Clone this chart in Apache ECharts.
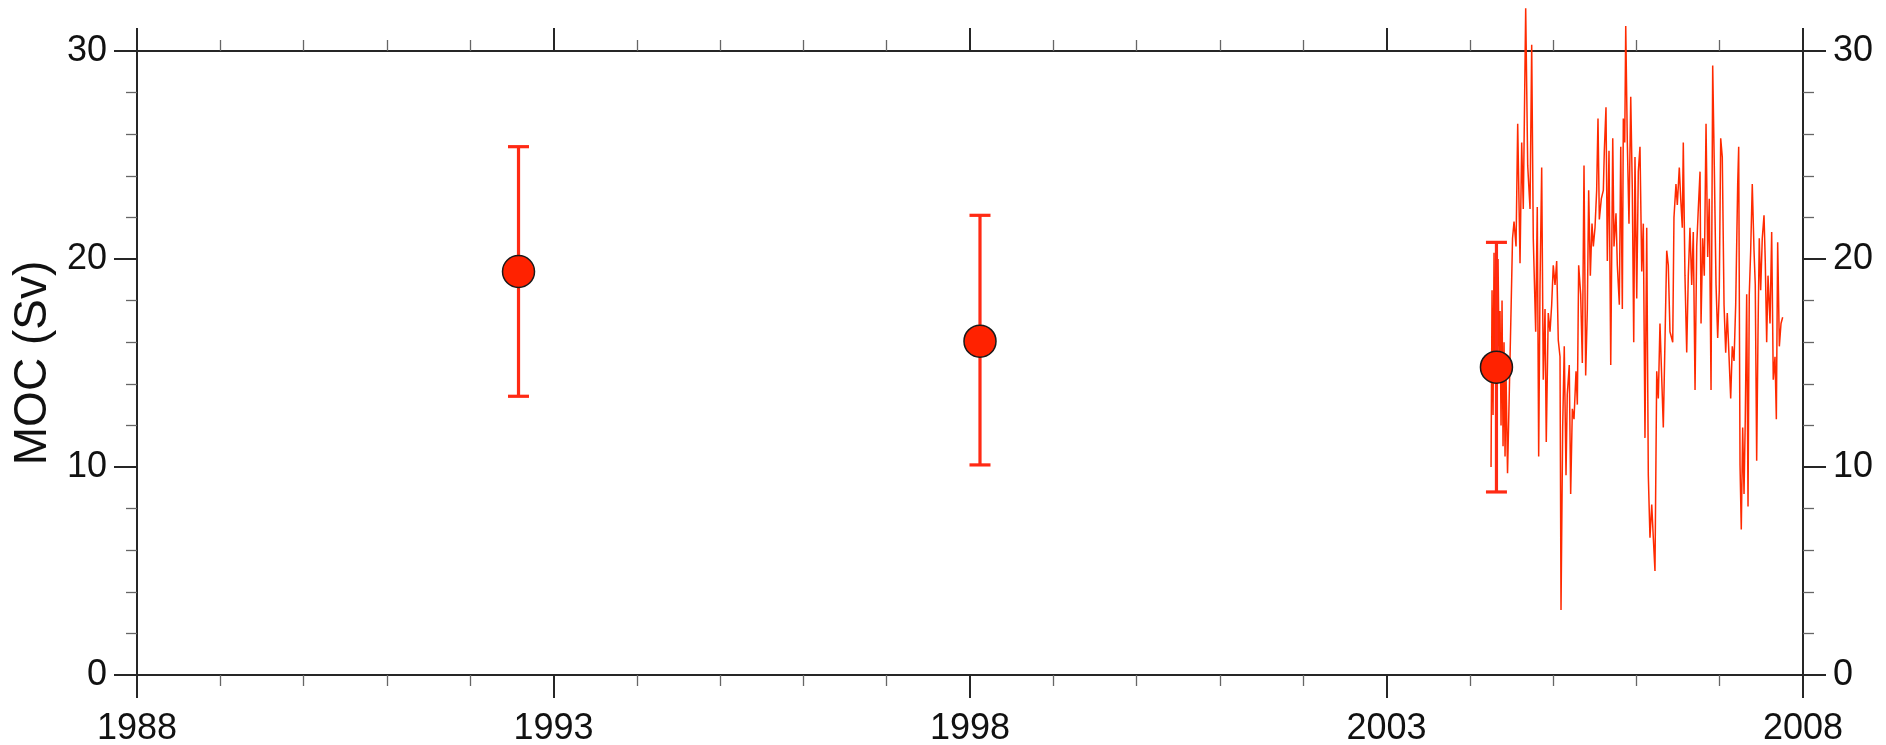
<!DOCTYPE html>
<html><head><meta charset="utf-8">
<script src="https://cdn.jsdelivr.net/npm/echarts@6/dist/echarts.min.js"></script>
<style>html,body{margin:0;padding:0;background:#fff}#c{width:1886px;height:745px}</style>
</head><body><div id="c"></div>
<script>
// ---- data ----
const xTickLabels = ['1988', '1993', '1998', '2003', '2008'];
const yTickLabels = ['0', '10', '20', '30'];
const yAxisTitle = 'MOC (Sv)';

// hydrographic section estimates (mean with error bar)
const cruiseYears = [1992.58, 1998.12, 2004.32];
const cruiseMOC   = [19.4, 16.05, 14.8];
const cruiseLow   = [13.4, 10.1, 8.8];
const cruiseHigh  = [25.4, 22.1, 20.8];

// continuous array time series
const rapidYears = [
 2004.255,2004.267,2004.279,2004.291,2004.303,2004.315,2004.327,2004.339,2004.351,2004.363,
 2004.375,2004.387,2004.399,2004.411,2004.423,2004.435,2004.453,2004.471,2004.495,2004.513,
 2004.531,2004.555,2004.575,2004.603,2004.623,2004.642,2004.671,2004.695,2004.723,2004.743,
 2004.762,2004.791,2004.810,2004.827,2004.843,2004.863,2004.882,2004.903,2004.918,2004.942,
 2004.963,2004.983,2005.002,2005.023,2005.043,2005.062,2005.083,2005.095,2005.115,2005.134,
 2005.155,2005.170,2005.194,2005.211,2005.231,2005.251,2005.275,2005.291,2005.307,2005.331,
 2005.351,2005.371,2005.391,2005.411,2005.427,2005.447,2005.467,2005.483,2005.503,2005.523,
 2005.539,2005.555,2005.579,2005.603,2005.615,2005.635,2005.651,2005.671,2005.692,2005.716,
 2005.731,2005.755,2005.771,2005.795,2005.812,2005.831,2005.843,2005.860,2005.872,2005.891,
 2005.911,2005.932,2005.951,2005.968,2005.983,2006.004,2006.023,2006.043,2006.064,2006.083,
 2006.103,2006.124,2006.143,2006.163,2006.184,2006.203,2006.223,2006.244,2006.263,2006.283,
 2006.323,2006.364,2006.383,2006.403,2006.436,2006.451,2006.475,2006.491,2006.515,2006.532,
 2006.551,2006.563,2006.583,2006.604,2006.623,2006.643,2006.664,2006.683,2006.704,2006.724,
 2006.743,2006.764,2006.776,2006.796,2006.815,2006.836,2006.856,2006.875,2006.896,2006.916,
 2006.935,2006.956,2006.976,2006.995,2007.012,2007.031,2007.052,2007.072,2007.091,2007.112,
 2007.132,2007.151,2007.172,2007.192,2007.216,2007.228,2007.244,2007.259,2007.276,2007.292,
 2007.307,2007.324,2007.340,2007.355,2007.372,2007.391,2007.412,2007.427,2007.444,2007.460,
 2007.475,2007.492,2007.511,2007.532,2007.547,2007.564,2007.580,2007.604,2007.624,2007.643,
 2007.664,2007.680,2007.696,2007.716,2007.736,2007.756
];
const rapidMOC = [
 10.0,18.5,12.5,20.3,14.0,19.8,13.0,20.0,15.5,17.5,
 12.0,18.0,11.0,16.0,10.5,14.5,9.7,13.0,17.5,21.0,
 21.8,20.6,26.5,19.8,25.6,22.4,32.06,24.5,22.4,30.3,
 21.0,16.5,22.5,10.5,18.75,24.4,14.2,17.6,11.2,17.4,
 16.5,17.8,19.7,18.75,19.9,16.1,15.3,3.13,11.9,15.8,
 9.6,13.5,14.9,8.7,12.8,12.3,14.6,13.0,19.7,18.3,
 15.0,24.5,14.4,17.6,23.3,19.2,21.7,20.6,21.5,23.3,
 26.75,21.9,22.9,23.3,25.2,27.3,19.9,25.2,14.9,25.8,
 20.6,22.2,19.7,17.8,25.4,17.6,26.75,25.6,31.2,25.6,
 21.7,27.8,23.3,16.0,24.9,18.1,24.2,25.4,19.4,21.7,
 11.4,21.5,9.6,6.6,8.2,6.6,5.0,14.6,13.3,16.9,
 11.9,20.4,19.7,16.5,16.0,22.0,23.6,22.6,24.4,22.9,
 21.5,25.6,19.2,15.5,19.2,21.5,18.75,21.3,13.7,20.6,
 22.4,24.2,16.9,21.0,19.2,26.5,20.1,22.9,13.7,29.3,
 24.5,18.75,16.2,18.5,25.8,24.9,17.8,15.5,17.4,15.3,
 13.3,15.8,15.1,17.8,23.6,25.4,10.1,7.0,11.9,8.7,
 12.3,18.3,8.1,18.3,20.4,23.6,20.4,18.75,10.3,16.5,
 21.0,18.5,21.0,22.1,19.9,16.0,19.2,16.9,21.3,14.2,
 15.3,12.3,20.8,15.8,16.9,17.2
];

// ---- chart ----
const axisColor = '#262626';
const font = "'Liberation Sans', Arial, Helvetica, sans-serif";
const X_MIN = 1988, X_MAX = 2008, X_STEP = 5;
const Y_MIN = 0, Y_MAX = 30, Y_STEP = 10;

function makeX(pos, showLabel) {
  return {
    type: 'value', position: pos, min: X_MIN, max: X_MAX, interval: X_STEP,
    axisLine: { show: true, onZero: false, lineStyle: { color: axisColor, width: 2 } },
    axisTick: { show: true, inside: false, length: 23, lineStyle: { color: axisColor, width: 2 } },
    minorTick: { show: true, splitNumber: 5, length: 11, lineStyle: { color: '#666', width: 1.3 } },
    axisLabel: { show: showLabel, margin: 36, fontSize: 36, color: '#111', fontFamily: font,
      formatter: v => xTickLabels[Math.round((v - X_MIN) / X_STEP)] },
    splitLine: { show: false }, minorSplitLine: { show: false }
  };
}
function makeY(pos, withName) {
  const a = {
    type: 'value', position: pos, min: Y_MIN, max: Y_MAX, interval: Y_STEP,
    axisLine: { show: true, onZero: false, lineStyle: { color: axisColor, width: 2 } },
    axisTick: { show: true, inside: false, length: 23, lineStyle: { color: axisColor, width: 2 } },
    minorTick: { show: true, splitNumber: 5, length: 11, lineStyle: { color: '#666', width: 1.3 } },
    axisLabel: { show: true, margin: 30, fontSize: 36, color: '#111', fontFamily: font,
      formatter: v => yTickLabels[Math.round((v - Y_MIN) / Y_STEP)] },
    splitLine: { show: false }, minorSplitLine: { show: false }
  };
  if (withName) {
    a.name = yAxisTitle;
    a.nameLocation = 'middle';
    a.nameGap = 64;
    a.nameRotate = 90;
    a.nameTextStyle = { fontSize: 46, color: '#111', fontFamily: font };
  }
  return a;
}

const chart = echarts.init(document.getElementById('c'), null, { renderer: 'canvas' });
chart.setOption({
  animation: false,
  backgroundColor: '#fff',
  grid: { left: 137, right: 83, top: 51, bottom: 70, containLabel: false, outerBoundsMode: 'none' },
  xAxis: [makeX('bottom', true), makeX('top', false)],
  yAxis: [makeY('left', true), makeY('right', false)],
  series: [
    {
      type: 'line', xAxisIndex: 0, yAxisIndex: 0, clip: false, z: 2,
      data: rapidYears.map((t, i) => [t, rapidMOC[i]]),
      showSymbol: false, symbol: 'none',
      lineStyle: { color: '#ff2a00', width: 1.5 }
    },
    {
      type: 'custom', xAxisIndex: 0, yAxisIndex: 0, z: 3,
      data: cruiseYears.map((t, i) => [t, cruiseLow[i], cruiseHigh[i]]),
      encode: { x: 0, y: [1, 2] },
      renderItem: (params, api) => {
        const x = api.value(0);
        const lo = api.coord([x, api.value(1)]);
        const hi = api.coord([x, api.value(2)]);
        const hw = 10.5;
        const style = { stroke: '#ff2a14', lineWidth: 3.2, fill: null };
        return { type: 'group', children: [
          { type: 'line', shape: { x1: lo[0], y1: lo[1], x2: hi[0], y2: hi[1] }, style },
          { type: 'line', shape: { x1: lo[0] - hw, y1: lo[1], x2: lo[0] + hw, y2: lo[1] }, style },
          { type: 'line', shape: { x1: hi[0] - hw, y1: hi[1], x2: hi[0] + hw, y2: hi[1] }, style }
        ]};
      }
    },
    {
      type: 'scatter', xAxisIndex: 0, yAxisIndex: 0, z: 4,
      data: cruiseYears.map((t, i) => [t, cruiseMOC[i]]),
      symbol: 'circle', symbolSize: 32,
      itemStyle: { color: '#ff2200', borderColor: '#1a1a1a', borderWidth: 1.5, opacity: 1 }
    }
  ]
});
</script>
</body></html>
